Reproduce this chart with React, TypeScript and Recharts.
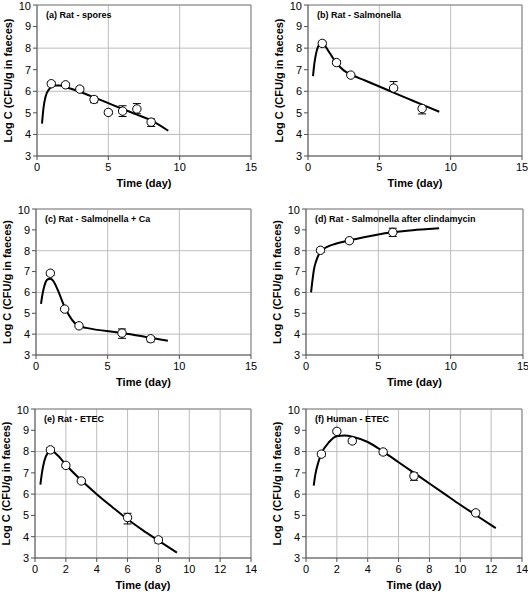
import {
  CartesianGrid,
  ComposedChart,
  ErrorBar,
  Line,
  ReferenceLine,
  Scatter,
  XAxis,
  YAxis,
} from 'recharts';

const yTicks = [3, 4, 5, 6, 7, 8, 9, 10];
const dayTicks15 = [0, 5, 10, 15];
const dayTicks14 = [0, 2, 4, 6, 8, 10, 12, 14];

// (a) Rat - spores
const sporeDays = [1, 2, 3, 4, 5, 6, 7, 8];
const sporeLogC = [6.35, 6.3, 6.1, 5.62, 5.02, 5.08, 5.18, 4.57];
const sporeErrLow = [0.1, 0.08, 0.1, 0.15, 0.1, 0.25, 0.22, 0.2];
const sporeErrHigh = [0.1, 0.08, 0.1, 0.12, 0.1, 0.25, 0.25, 0.15];
const sporeFitDays = [0.35, 0.45, 0.6, 0.8, 1.0, 1.3, 1.6, 2, 3, 4, 5, 6, 7, 8, 9.2];
const sporeFitLogC = [4.5, 5.2, 5.75, 6.05, 6.2, 6.27, 6.27, 6.2, 5.98, 5.72, 5.45, 5.18, 4.92, 4.65, 4.17];

// (b) Rat - Salmonella
const salmDays = [1, 2, 3, 6, 8];
const salmLogC = [8.22, 7.33, 6.75, 6.15, 5.2];
const salmErrLow = [0.1, 0.1, 0.05, 0.1, 0.25];
const salmErrHigh = [0.1, 0.1, 0.05, 0.3, 0.1];
const salmFitDays = [0.35, 0.45, 0.6, 0.8, 1.0, 1.2, 1.5, 2, 2.5, 3, 4, 5, 6, 7, 8, 9.2];
const salmFitLogC = [6.7, 7.3, 7.85, 8.15, 8.2, 8.1, 7.8, 7.3, 6.97, 6.78, 6.5, 6.22, 5.94, 5.66, 5.38, 5.05];

// (c) Rat - Salmonella + Ca
const caDays = [1, 2, 3, 6, 8];
const caLogC = [6.92, 5.2, 4.4, 4.05, 3.78];
const caErrLow = [0.1, 0.05, 0.05, 0.25, 0.15];
const caErrHigh = [0.1, 0.05, 0.05, 0.2, 0.1];
const caFitDays = [0.35, 0.45, 0.6, 0.8, 1.0, 1.2, 1.5, 2, 2.5, 3, 3.5, 6, 9.2];
const caFitLogC = [5.45, 5.9, 6.35, 6.62, 6.65, 6.55, 6.15, 5.3, 4.7, 4.38, 4.3, 4.05, 3.68];

// (d) Rat - Salmonella after clindamycin
const clinDays = [1, 3, 6];
const clinLogC = [8.02, 8.48, 8.88];
const clinErrLow = [0.1, 0.1, 0.2];
const clinErrHigh = [0.1, 0.1, 0.2];
const clinFitDays = [0.35, 0.45, 0.55, 0.7, 1, 1.5, 2, 3, 4, 5, 6, 7, 8, 9.2];
const clinFitLogC = [6.0, 6.6, 7.1, 7.5, 7.95, 8.2, 8.32, 8.5, 8.65, 8.78, 8.88, 8.96, 9.02, 9.08];

// (e) Rat - ETEC
const ratEtecDays = [1, 2, 3, 6, 8];
const ratEtecLogC = [8.08, 7.35, 6.62, 4.9, 3.85];
const ratEtecErrLow = [0.1, 0.1, 0.05, 0.3, 0.15];
const ratEtecErrHigh = [0.1, 0.1, 0.05, 0.2, 0.1];
const ratEtecFitDays = [0.35, 0.45, 0.6, 0.8, 1.0, 1.2, 1.5, 2, 3, 4, 5, 6, 7, 8, 9.2];
const ratEtecFitLogC = [6.45, 7.0, 7.55, 7.9, 8.0, 7.98, 7.8, 7.38, 6.65, 6.0, 5.4, 4.82, 4.3, 3.82, 3.25];

// (f) Human - ETEC
const humEtecDays = [1, 2, 3, 5, 7, 11];
const humEtecLogC = [7.88, 8.95, 8.5, 7.98, 6.85, 5.12];
const humEtecErrLow = [0.1, 0.1, 0.1, 0.12, 0.2, 0.1];
const humEtecErrHigh = [0.1, 0.1, 0.1, 0.12, 0.15, 0.1];
const humEtecFitDays = [0.5, 0.6, 0.8, 1.0, 1.5, 2, 2.5, 3, 4, 5, 6, 7, 8, 9, 10, 11, 12.3];
const humEtecFitLogC = [6.4, 6.9, 7.5, 7.9, 8.45, 8.72, 8.75, 8.7, 8.45, 8.0, 7.5, 7.0, 6.5, 6.0, 5.5, 5.02, 4.4];

const FONT = '"Liberation Sans", Arial, sans-serif';

interface Box {
  left: number
  top: number
  right: number
  bottom: number
}

interface PanelProps {
  title: string
  colLeft: number
  box: Box
  xTicks: number[]
  days: number[]
  logC: number[]
  errLow: number[]
  errHigh: number[]
  fitDays: number[]
  fitLogC: number[]
}

const PAD_TOP = 5;
const PAD_RIGHT = 6;
const AXIS_H = 36;

function Panel(props: PanelProps) {
  const { title, colLeft, box, xTicks } = props;
  const yw = box.left - colLeft;
  const width = box.right + PAD_RIGHT - colLeft;
  const height = box.bottom - box.top + PAD_TOP + AXIS_H;
  const xMax = xTicks[xTicks.length - 1];

  const points = props.days.map((d, i) => ({
    day: d,
    logC: props.logC[i],
    err: [props.errLow[i], props.errHigh[i]],
  }));
  const fit = props.fitDays.map((d, i) => ({ day: d, logC: props.fitLogC[i] }));

  const xTitle = (p: any) => {
    const vb = p.viewBox;
    return (
      <text x={vb.x + vb.width / 2} y={vb.y + 31} textAnchor="middle" fontSize={11} fontWeight="bold" fill="#000" fontFamily={FONT}>
        Time (day)
      </text>
    );
  };
  const yTitle = (p: any) => {
    const vb = p.viewBox;
    const cx = vb.x + vb.width - 29.5;
    const cy = vb.y + vb.height / 2;
    return (
      <text
        x={cx}
        y={cy}
        transform={`rotate(-90 ${cx} ${cy})`}
        textAnchor="middle"
        dominantBaseline="central"
        fontSize={11}
        fontWeight="bold"
        fill="#000"
        fontFamily={FONT}
      >
        Log C (CFU/g in faeces)
      </text>
    );
  };

  return (
    <div style={{ position: 'absolute', left: colLeft, top: box.top - PAD_TOP, width, height }}>
      <ComposedChart
        width={width}
        height={height}
        margin={{ top: PAD_TOP, right: PAD_RIGHT, left: 0, bottom: 0 }}
        style={{ fontFamily: FONT }}
      >
        <CartesianGrid stroke="#bdbdbd" strokeWidth={1} />
        <XAxis
          dataKey="day"
          type="number"
          domain={[0, xMax]}
          ticks={xTicks}
          allowDataOverflow
          height={AXIS_H}
          stroke="#505050"
          tickSize={4}
          tickMargin={3}
          tick={{ fill: '#000', fontSize: 11 }}
          label={{ content: xTitle }}
        />
        <YAxis
          dataKey="logC"
          type="number"
          domain={[3, 10]}
          ticks={yTicks}
          allowDataOverflow
          width={yw}
          stroke="#505050"
          tickSize={4}
          tickMargin={2}
          tick={{ fill: '#000', fontSize: 11 }}
          label={{ content: yTitle }}
        />
        <ReferenceLine y={10} stroke="#888" strokeWidth={1} />
        <ReferenceLine x={xMax} stroke="#888" strokeWidth={1} />
        <Line
          data={fit}
          dataKey="logC"
          type="monotone"
          stroke="#000"
          strokeWidth={2}
          dot={false}
          activeDot={false}
          isAnimationActive={false}
        />
        <Scatter
          data={points}
          dataKey="logC"
          isAnimationActive={false}
          shape={(p: any) => (
            <circle cx={p.cx} cy={p.cy} r={4.2} fill="#fff" stroke="#000" strokeWidth={1} />
          )}
        >
          <ErrorBar dataKey="err" direction="y" width={4} stroke="#000" strokeWidth={1} />
        </Scatter>
        <text x={yw + 9} y={PAD_TOP + 12.5} fontSize={9} fontWeight="bold" fill="#000" fontFamily={FONT}>
          {title}
        </text>
      </ComposedChart>
    </div>
  );
}

export default function App() {
  return (
    <div
      style={{
        position: 'absolute',
        left: 0,
        top: 0,
        width: 528,
        height: 592,
        overflow: 'hidden',
        background: '#fff',
        fontFamily: FONT,
      }}
    >
      <Panel
        title="(a) Rat - spores"
        colLeft={0}
        box={{ left: 37, top: 5, right: 251, bottom: 156 }}
        xTicks={dayTicks15}
        days={sporeDays}
        logC={sporeLogC}
        errLow={sporeErrLow}
        errHigh={sporeErrHigh}
        fitDays={sporeFitDays}
        fitLogC={sporeFitLogC}
      />
      <Panel
        title="(b) Rat - Salmonella"
        colLeft={264}
        box={{ left: 308, top: 5, right: 522, bottom: 156 }}
        xTicks={dayTicks15}
        days={salmDays}
        logC={salmLogC}
        errLow={salmErrLow}
        errHigh={salmErrHigh}
        fitDays={salmFitDays}
        fitLogC={salmFitLogC}
      />
      <Panel
        title="(c) Rat - Salmonella + Ca"
        colLeft={0}
        box={{ left: 36, top: 209, right: 251, bottom: 355 }}
        xTicks={dayTicks15}
        days={caDays}
        logC={caLogC}
        errLow={caErrLow}
        errHigh={caErrHigh}
        fitDays={caFitDays}
        fitLogC={caFitLogC}
      />
      <Panel
        title="(d) Rat - Salmonella after clindamycin"
        colLeft={264}
        box={{ left: 306, top: 209, right: 523, bottom: 355 }}
        xTicks={dayTicks15}
        days={clinDays}
        logC={clinLogC}
        errLow={clinErrLow}
        errHigh={clinErrHigh}
        fitDays={clinFitDays}
        fitLogC={clinFitLogC}
      />
      <Panel
        title="(e) Rat - ETEC"
        colLeft={0}
        box={{ left: 35, top: 409, right: 251, bottom: 558 }}
        xTicks={dayTicks14}
        days={ratEtecDays}
        logC={ratEtecLogC}
        errLow={ratEtecErrLow}
        errHigh={ratEtecErrHigh}
        fitDays={ratEtecFitDays}
        fitLogC={ratEtecFitLogC}
      />
      <Panel
        title="(f) Human - ETEC"
        colLeft={264}
        box={{ left: 306, top: 409, right: 522, bottom: 558 }}
        xTicks={dayTicks14}
        days={humEtecDays}
        logC={humEtecLogC}
        errLow={humEtecErrLow}
        errHigh={humEtecErrHigh}
        fitDays={humEtecFitDays}
        fitLogC={humEtecFitLogC}
      />
    </div>
  );
}
